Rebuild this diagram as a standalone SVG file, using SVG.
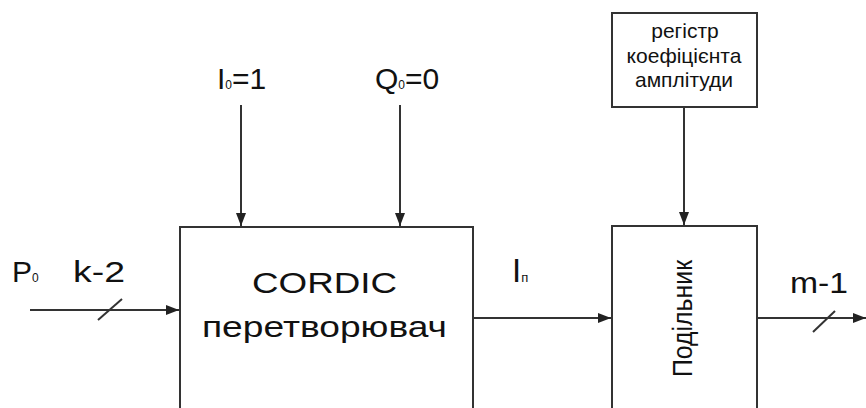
<svg xmlns="http://www.w3.org/2000/svg" width="866" height="408" viewBox="0 0 866 408">
<style>
  .box { fill: #fff; stroke: #333; stroke-width: 2; }
  .wire { fill: none; stroke: #333; stroke-width: 2; }
  .t { font-family: "Liberation Sans", Arial, sans-serif; fill: #111; }
  .big { font-size: 30px; }
  .reg { font-size: 21px; text-anchor: middle; }
  .sub { font-size: 12px; }
</style>
<defs>
  <marker id="arr" markerUnits="userSpaceOnUse" markerWidth="13" markerHeight="10" refX="13" refY="5" orient="auto">
    <path d="M0,0 L13,5 L0,10 z" fill="#222"/>
  </marker>
</defs>
<rect width="866" height="408" fill="#fff"/>

<g id="cordic">
  <rect class="box" x="180" y="227" width="293" height="200"/>
  <text class="t big" x="252" y="293" textLength="145" lengthAdjust="spacingAndGlyphs">CORDIC</text>
  <text class="t big" x="202" y="337" textLength="245" lengthAdjust="spacingAndGlyphs">перетворювач</text>
</g>

<g id="divider">
  <rect class="box" x="612" y="226" width="145" height="200"/>
  <text class="t" font-size="27" transform="translate(692,377) rotate(-90)" textLength="117" lengthAdjust="spacingAndGlyphs">Подільник</text>
</g>

<g id="register">
  <rect class="box" x="612" y="13" width="145" height="94"/>
  <text class="t reg" x="685" y="38">регістр</text>
  <text class="t reg" x="684" y="63">коефіцієнта</text>
  <text class="t reg" x="684" y="87">амплітуди</text>
</g>

<g id="labels">
  <text class="t big" x="217" y="89">I<tspan class="sub">0</tspan>=1</text>
  <text class="t big" x="375" y="89">Q<tspan class="sub">0</tspan>=0</text>
  <text class="t big" x="12" y="282">P<tspan class="sub">0</tspan></text>
  <text class="t big" x="73" y="282" textLength="52" lengthAdjust="spacingAndGlyphs">k-2</text>
  <text class="t" font-size="33" x="512" y="282">I<tspan font-size="13">п</tspan></text>
  <text class="t big" x="790" y="293" textLength="58" lengthAdjust="spacingAndGlyphs">m-1</text>
</g>

<g id="connectors">
  <line class="wire" x1="241" y1="105" x2="241" y2="226" marker-end="url(#arr)"/>
  <line class="wire" x1="400" y1="105" x2="400" y2="226" marker-end="url(#arr)"/>
  <line class="wire" x1="684" y1="107" x2="684" y2="225" marker-end="url(#arr)"/>
  <line class="wire" x1="30" y1="310" x2="179" y2="310" marker-end="url(#arr)"/>
  <line class="wire" x1="98" y1="320" x2="122" y2="299"/>
  <line class="wire" x1="473" y1="318" x2="611" y2="318" marker-end="url(#arr)"/>
  <line class="wire" x1="757" y1="318" x2="866" y2="318" marker-end="url(#arr)"/>
  <line class="wire" x1="813" y1="332" x2="835" y2="311"/>
</g>
</svg>
